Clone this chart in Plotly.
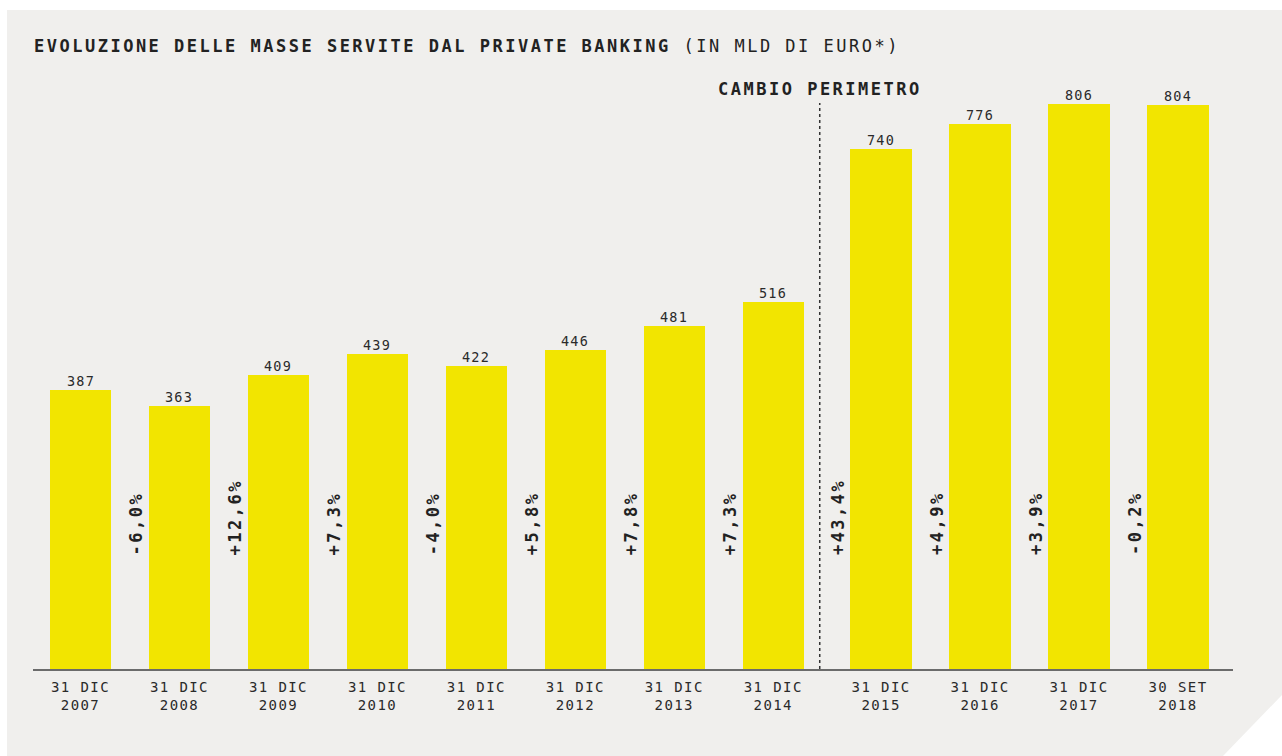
import plotly.graph_objects as go

# ---- data ----
categories = ["31 DIC<br>2007", "31 DIC<br>2008", "31 DIC<br>2009", "31 DIC<br>2010",
              "31 DIC<br>2011", "31 DIC<br>2012", "31 DIC<br>2013", "31 DIC<br>2014",
              "31 DIC<br>2015", "31 DIC<br>2016", "31 DIC<br>2017", "30 SET<br>2018"]
values = [387, 363, 409, 439, 422, 446, 481, 516, 740, 776, 806, 804]
changes = ["-6,0%", "+12,6%", "+7,3%", "-4,0%", "+5,8%", "+7,8%", "+7,3%",
           "+43,4%", "+4,9%", "+3,9%", "-0,2%"]
title_bold = "EVOLUZIONE DELLE MASSE SERVITE DAL PRIVATE BANKING"
title_unit = "(IN MLD DI EURO*)"
break_label = "CAMBIO PERIMETRO"
break_index = 8  # first bar after the perimeter change

# ---- styling / layout constants ----
FONT = "DejaVu Sans Mono"
INK = "#222222"
YELLOW = "#f2e500"
PANEL = "#f0efed"
GAP = 0.09
BREAK_OFFSET = 0.47
Y_FLOOR = -22
W, H = 1282, 756
ML, MR, MT, MB = 33, 49, 80, 87
PW, PH = W - ML - MR, H - MT - MB


def sp(text, s):
    return f"<span style='letter-spacing:{s}px'>{text}</span>"


def px_to_paper(px, py):
    return (px - ML) / PW, (H - MB - py) / PH


positions = [i + (GAP if i >= break_index else 0) for i in range(len(values))]
break_x = positions[break_index - 1] + BREAK_OFFSET

fig = go.Figure()
fig.add_trace(go.Bar(
    x=positions, y=[v - Y_FLOOR for v in values], base=Y_FLOOR,
    width=0.62, marker=dict(color=YELLOW, line=dict(width=0)),
    hoverinfo="skip",
))

annotations = []
# value labels above bars
for p, v in zip(positions, values):
    annotations.append(dict(
        x=p, y=v, xref="x", yref="y", text=sp(str(v), 1.2), showarrow=False,
        xanchor="center", yanchor="bottom", yshift=-1,
        font=dict(family=FONT, size=13.5, color="#2a2a2a"),
    ))

# percentage change labels, rotated, left of each bar from the 2nd one
for i, ch in enumerate(changes, start=1):
    annotations.append(dict(
        x=positions[i] - 0.435, y=142, xref="x", yref="y",
        text=sp(ch, 2.5), textangle=-90, showarrow=False,
        xanchor="center", yanchor="bottom",
        font=dict(family=FONT, size=17, color=INK, weight="bold"),
    ))

# title
tx, ty = px_to_paper(32, 46)
annotations.append(dict(
    x=tx, y=ty, xref="paper", yref="paper", xanchor="left", yanchor="middle",
    text=sp(f"<b>{title_bold}</b> {title_unit}", 2.5), showarrow=False,
    font=dict(family=FONT, size=17, color=INK),
))

# perimeter change label
_, cy = px_to_paper(0, 89)
annotations.append(dict(
    x=break_x, y=cy, xref="x", yref="paper", xanchor="center", yanchor="middle",
    text=sp(f"<b>{break_label}</b>", 2.5), showarrow=False,
    font=dict(family=FONT, size=17, color=INK),
))

# background panel with cut corner
pts = [(7, 10), (1282, 10), (1282, 695), (1223, 756), (7, 756)]
path = "M " + " L ".join(f"{px_to_paper(a, b)[0]:.5f},{px_to_paper(a, b)[1]:.5f}" for a, b in pts) + " Z"
_, ly1 = px_to_paper(0, 103)
shapes = [
    dict(type="path", xref="paper", yref="paper", path=path,
         fillcolor=PANEL, line=dict(width=0), layer="below"),
    dict(type="line", xref="x", yref="paper", x0=break_x, x1=break_x, y0=0, y1=ly1,
         line=dict(color="#333333", width=1.5, dash="dot"), layer="above"),
]

fig.update_layout(
    width=W, height=H,
    margin=dict(l=ML, r=MR, t=MT, b=MB),
    paper_bgcolor="white", plot_bgcolor="rgba(0,0,0,0)",
    showlegend=False, bargap=0,
    annotations=annotations, shapes=shapes,
    xaxis=dict(
        range=[positions[0] - 0.48, positions[-1] + 0.556],
        tickvals=positions, ticktext=[sp(c, 1.4) for c in categories],
        tickfont=dict(family=FONT, size=14, color="#2a2a2a"),
        showgrid=False, zeroline=False, showline=True,
        linecolor="#6b6b6b", linewidth=2, ticks="", ticklabelstandoff=4,
        fixedrange=True,
    ),
    yaxis=dict(
        range=[Y_FLOOR, Y_FLOOR + PH / 0.6826], visible=False,
        showgrid=False, zeroline=False, fixedrange=True,
    ),
)

fig.write_html("out.html", config={"displayModeBar": False})
